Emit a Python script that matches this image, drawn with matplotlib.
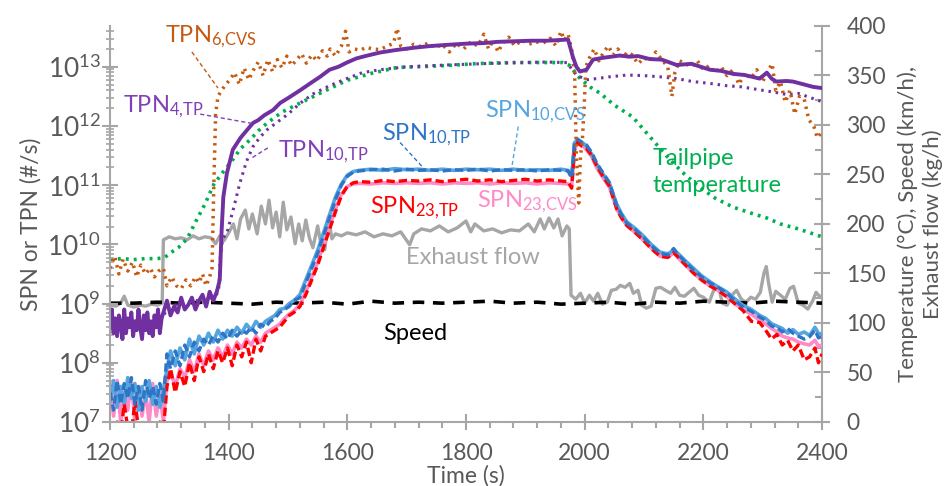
import numpy as np
import matplotlib
matplotlib.use('Agg')
import matplotlib.pyplot as plt
from matplotlib.ticker import MultipleLocator, LogLocator, FixedLocator, NullFormatter

plt.rcParams['font.family'] = 'Lato'
plt.rcParams['mathtext.fontset'] = 'custom'
plt.rcParams['mathtext.rm'] = 'Lato'
plt.rcParams['mathtext.it'] = 'Lato:italic'
plt.rcParams['mathtext.bf'] = 'Lato:bold'

# ---- particle number series (log10 of #/s) ----
t_tpn4 = [1200, 1203, 1206, 1209, 1212, 1215, 1218, 1221, 1224, 1227, 1230, 1233, 1236, 1239, 1242,
          1245, 1248, 1251, 1254, 1257, 1260, 1263, 1266, 1269, 1272, 1275, 1278, 1281, 1284, 1287,
          1290, 1296, 1302, 1308, 1314, 1320, 1326, 1332, 1338, 1344, 1350, 1356, 1362, 1368, 1374,
          1380, 1385, 1388, 1391, 1397, 1407, 1420, 1430, 1441, 1450, 1460, 1475, 1487, 1500, 1520,
          1542, 1554, 1570, 1585, 1599, 1615, 1630, 1655, 1680, 1711, 1740, 1768, 1800, 1830, 1852,
          1880, 1910, 1936, 1955, 1972, 1980, 1986, 1992, 2003, 2014, 2030, 2045, 2059, 2075, 2090,
          2110, 2130, 2155, 2180, 2211, 2230, 2250, 2270, 2295, 2307, 2315, 2323, 2340, 2351, 2370,
          2385, 2400]
tpn4_tp = [8.6, 8.9, 8.5, 8.75, 8.45, 8.8, 8.65, 8.4, 8.9, 8.5, 8.75, 8.6, 8.85, 8.45, 8.7,
           8.55, 8.9, 8.6, 8.4, 8.8, 8.55, 8.85, 8.5, 8.7, 8.45, 8.8, 8.6, 8.9, 8.5, 8.75,
           8.85, 9.05, 8.8, 8.95, 8.85, 9.1, 8.9, 8.98, 9.1, 8.9, 9.05, 9.15, 8.95, 9.2, 9.05,
           9.2, 9.4, 10.2, 10.8, 11.2, 11.6, 11.8, 11.92, 12.05, 12.1, 12.18, 12.27, 12.39, 12.47, 12.6,
           12.75, 12.83, 12.95, 13.0, 13.07, 13.14, 13.18, 13.24, 13.28, 13.32, 13.35, 13.37, 13.39, 13.4, 13.42,
           13.43, 13.44, 13.44, 13.45, 13.46, 13.17, 13.0, 12.92, 12.95, 13.12, 13.15, 13.17, 13.19, 13.17, 13.18,
           13.13, 13.12, 13.03, 13.05, 12.95, 12.93, 12.88, 12.86, 12.8, 12.9, 12.8, 12.75, 12.76, 12.75, 12.7,
           12.66, 12.64]

t_tpn10 = [1200, 1220, 1240, 1260, 1280, 1290, 1300, 1320, 1340, 1360, 1375, 1383, 1386, 1390, 1397,
           1408, 1419, 1430, 1441, 1452, 1464, 1480, 1500, 1520, 1542, 1570, 1599, 1625, 1655, 1700,
           1768, 1850, 1936, 1970, 1986, 2003, 2020, 2042, 2071, 2100, 2127, 2155, 2182, 2210, 2239,
           2265, 2295, 2320, 2341, 2360, 2380, 2400]
tpn10_tp = [8.7, 8.75, 8.7, 8.75, 8.7, 8.8, 8.95, 9.0, 9.05, 9.05, 9.1, 9.2, 9.8, 10.1, 10.19,
            10.6, 11.04, 11.4, 11.65, 11.8, 11.93, 12.05, 12.2, 12.38, 12.54, 12.68, 12.8, 12.9, 12.95, 13.0,
            13.03, 13.06, 13.08, 13.07, 12.86, 12.78, 12.8, 12.83, 12.86, 12.85, 12.83, 12.8, 12.75, 12.72, 12.68,
            12.66, 12.61, 12.57, 12.53, 12.55, 12.48, 12.41]

t_tpn6 = [1200, 1208, 1215, 1222, 1230, 1238, 1245, 1252, 1260, 1268, 1275, 1282, 1290, 1296, 1304,
          1312, 1320, 1328, 1336, 1344, 1350, 1356, 1362, 1368, 1372, 1375, 1378, 1382, 1388, 1395,
          1402, 1410, 1418, 1426, 1434, 1442, 1450, 1458, 1466, 1474, 1482, 1490, 1498, 1506, 1515,
          1523, 1531, 1540, 1549, 1558, 1566, 1571, 1580, 1590, 1597, 1603, 1612, 1622, 1632, 1642,
          1655, 1668, 1678, 1684, 1690, 1700, 1712, 1724, 1736, 1748, 1760, 1772, 1784, 1796, 1808,
          1820, 1830, 1838, 1846, 1854, 1862, 1872, 1882, 1894, 1906, 1918, 1930, 1942, 1952, 1960,
          1966, 1972, 1978, 1983, 1986, 1990, 1993, 1996, 1999, 2002, 2008, 2016, 2024, 2032, 2040,
          2048, 2056, 2064, 2072, 2080, 2090, 2100, 2110, 2120, 2130, 2140, 2147, 2152, 2160, 2170,
          2180, 2190, 2200, 2210, 2220, 2230, 2240, 2250, 2260, 2270, 2280, 2290, 2300, 2310, 2316,
          2322, 2330, 2338, 2346, 2354, 2362, 2370, 2378, 2386, 2392, 2400]
tpn6_cvs = [9.6, 9.8, 9.5, 9.75, 9.55, 9.7, 9.45, 9.65, 9.5, 9.6, 9.45, 9.55, 9.6, 9.3, 9.45,
            9.3, 9.25, 9.4, 9.3, 9.45, 9.35, 9.5, 9.3, 9.45, 9.6, 11.0, 12.2, 12.5, 12.6, 12.7,
            12.78, 12.9, 12.7, 12.98, 12.78, 12.95, 13.08, 12.85, 13.12, 12.92, 13.12, 12.98, 13.18, 13.02, 13.12,
            13.22, 13.06, 13.2, 13.1, 13.27, 13.18, 13.3, 13.18, 13.35, 13.6, 13.25, 13.3, 13.28, 13.33, 13.3,
            13.29, 13.35, 13.4, 13.65, 13.35, 13.3, 13.38, 13.34, 13.4, 13.32, 13.38, 13.25, 13.4, 13.3, 13.42,
            13.35, 13.55, 13.3, 13.45, 13.25, 13.4, 13.5, 13.35, 13.45, 13.38, 13.42, 13.4, 13.48, 13.35, 13.6,
            13.45, 13.55, 13.3, 12.9, 11.5, 10.7, 11.5, 11.75, 12.3, 13.0, 13.15, 13.3, 13.1, 13.25, 13.35,
            13.2, 13.3, 13.15, 13.25, 13.2, 13.05, 13.15, 13.1, 13.25, 13.12, 13.0, 12.5, 12.9, 13.1, 13.05,
            13.0, 13.1, 12.95, 13.02, 12.9, 13.0, 12.85, 12.95, 12.7, 12.9, 12.8, 12.95, 12.75, 12.95, 13.05,
            12.6, 12.75, 12.4, 12.6, 12.2, 12.5, 12.45, 12.1, 12.0, 11.8, 11.9]

t_spn = [1200, 1206, 1212, 1218, 1224, 1230, 1236, 1242, 1248, 1254,
         1260, 1266, 1272, 1278, 1284, 1290, 1296, 1302, 1310, 1318,
         1326, 1334, 1342, 1350, 1358, 1366, 1374, 1382, 1390, 1398,
         1406, 1414, 1422, 1430, 1438, 1446, 1454, 1462, 1470, 1478,
         1486, 1494, 1502, 1510, 1520, 1530, 1540, 1550, 1560, 1570,
         1580, 1590, 1600, 1610, 1620, 1640, 1660, 1680, 1700, 1720,
         1740, 1760, 1780, 1800, 1820, 1840, 1860, 1880, 1900, 1920,
         1940, 1960, 1972, 1978, 1983, 1988, 1995, 2003, 2012, 2020,
         2030, 2042, 2054, 2062, 2071, 2085, 2098, 2112, 2127, 2140,
         2150, 2158, 2170, 2183, 2197, 2211, 2225, 2239, 2253, 2267,
         2281, 2295, 2305, 2315, 2324, 2333, 2342, 2351, 2360, 2370,
         2379, 2388, 2394, 2400]
spn10_tp = [7.5, 7.2, 7.7, 7.3, 7.65, 7.4, 7.75, 7.3, 7.6, 7.2,
            7.7, 7.4, 7.6, 7.3, 7.65, 7.35, 8.15, 7.9, 8.2, 7.95,
            8.3, 8.1, 8.35, 8.2, 8.4, 8.3, 8.45, 8.35, 8.5, 8.4,
            8.55, 8.45, 8.55, 8.5, 8.6, 8.5, 8.65, 8.6, 8.7, 8.75,
            8.85, 8.9, 8.95, 9.05, 9.1, 9.35, 9.6, 9.85, 10.15, 10.45,
            10.75, 11.0, 11.15, 11.22, 11.24, 11.26, 11.27, 11.24, 11.27, 11.25,
            11.26, 11.24, 11.26, 11.25, 11.27, 11.24, 11.26, 11.25, 11.26, 11.24,
            11.26, 11.25, 11.24, 11.12, 11.75, 11.78, 11.72, 11.68, 11.55, 11.38,
            11.22, 11.04, 10.65, 10.5, 10.36, 10.25, 10.13, 9.98, 9.85, 9.82,
            9.93, 9.82, 9.7, 9.57, 9.45, 9.35, 9.27, 9.18, 9.05, 8.94,
            8.87, 8.77, 8.72, 8.62, 8.6, 8.52, 8.58, 8.5, 8.45, 8.4,
            8.44, 8.55, 8.42, 8.45]
spn10_cvs = [7.35, 7.7, 7.25, 7.6, 7.3, 7.75, 7.4, 7.65, 7.2, 7.6,
             7.35, 7.7, 7.3, 7.6, 7.25, 7.55, 7.9, 8.2, 7.95, 8.25,
             8.05, 8.4, 8.15, 8.45, 8.3, 8.5, 8.35, 8.55, 8.4, 8.55,
             8.45, 8.6, 8.5, 8.65, 8.55, 8.7, 8.6, 8.7, 8.75, 8.8,
             8.9, 8.92, 9.0, 9.05, 9.15, 9.4, 9.65, 9.9, 10.2, 10.5,
             10.8, 11.02, 11.17, 11.23, 11.25, 11.27, 11.25, 11.28, 11.26, 11.27,
             11.25, 11.27, 11.25, 11.27, 11.26, 11.27, 11.25, 11.27, 11.25, 11.26,
             11.25, 11.27, 11.25, 11.15, 11.72, 11.76, 11.73, 11.66, 11.52, 11.36,
             11.2, 11.02, 10.68, 10.52, 10.38, 10.27, 10.15, 10.0, 9.87, 9.84,
             9.9, 9.84, 9.72, 9.6, 9.47, 9.37, 9.28, 9.2, 9.08, 8.97,
             8.9, 8.8, 8.75, 8.66, 8.62, 8.58, 8.5, 8.56, 8.48, 8.52,
             8.46, 8.6, 8.5, 8.48]
spn23_tp = [6.9, 6.8, 7.0, 6.8, 7.3, 6.9, 6.8, 7.35, 6.9, 6.8,
            7.0, 6.8, 6.9, 6.8, 7.0, 6.85, 7.6, 7.9, 7.5, 7.85,
            7.6, 8.0, 7.7, 8.1, 7.85, 8.15, 7.9, 8.2, 8.0, 8.25,
            7.95, 8.3, 8.1, 8.35, 8.0, 8.4, 8.2, 8.45, 8.5, 8.55,
            8.6, 8.7, 8.8, 8.85, 8.95, 9.15, 9.4, 9.65, 9.95, 10.25,
            10.55, 10.82, 10.98, 11.04, 11.06, 11.05, 11.08, 11.06, 11.08, 11.07,
            11.09, 11.06, 11.08, 11.1, 11.07, 11.09, 11.06, 11.08, 11.1, 11.07,
            11.09, 11.07, 11.06, 10.95, 11.6, 11.72, 11.66, 11.62, 11.5, 11.33,
            11.16, 10.98, 10.6, 10.45, 10.32, 10.2, 10.08, 9.93, 9.8, 9.78,
            9.86, 9.78, 9.65, 9.52, 9.4, 9.3, 9.22, 9.12, 9.0, 8.88,
            8.7, 8.68, 8.55, 8.4, 8.48, 8.3, 8.38, 8.2, 8.3, 8.05,
            8.1, 8.25, 8.0, 8.15]
spn23_cvs = [7.6, 7.1, 7.7, 7.0, 7.5, 7.2, 7.7, 7.0, 7.6, 7.1,
             7.5, 7.0, 7.65, 7.1, 7.5, 7.0, 7.7, 7.85, 7.6, 7.9,
             7.75, 8.05, 7.85, 8.15, 7.95, 8.2, 8.05, 8.25, 8.1, 8.3,
             8.15, 8.35, 8.25, 8.4, 8.3, 8.45, 8.35, 8.5, 8.55, 8.6,
             8.65, 8.75, 8.82, 8.88, 8.98, 9.2, 9.45, 9.7, 10.0, 10.3,
             10.6, 10.85, 10.98, 11.02, 11.03, 11.02, 11.04, 11.03, 11.04, 11.03,
             11.04, 11.02, 11.04, 11.03, 11.04, 11.02, 11.04, 11.03, 11.04, 11.02,
             11.04, 11.03, 11.02, 10.98, 11.62, 11.7, 11.68, 11.6, 11.48, 11.3,
             11.14, 10.96, 10.6, 10.45, 10.32, 10.2, 10.08, 9.94, 9.8, 9.78,
             9.86, 9.77, 9.65, 9.52, 9.4, 9.3, 9.22, 9.12, 9.0, 8.9,
             8.82, 8.72, 8.66, 8.58, 8.52, 8.45, 8.42, 8.4, 8.35, 8.32,
             8.3, 8.38, 8.28, 8.3]

# ---- right axis series ----
t_temp = [1200, 1220, 1240, 1260, 1280, 1292, 1300, 1315, 1330, 1345, 1360, 1375, 1390, 1407, 1420,
          1436, 1450, 1465, 1490, 1520, 1554, 1599, 1640, 1684, 1730, 1768, 1820, 1880, 1930, 1963,
          1975, 1992, 2010, 2026, 2050, 2081, 2110, 2139, 2165, 2194, 2220, 2250, 2280, 2307, 2330,
          2360, 2380, 2400]
temp = [164, 165, 164, 165, 165, 166, 170, 176, 185, 203, 220, 240, 252, 265, 276,
        285, 294, 302, 313, 322, 332, 345, 352, 358, 359, 360, 362, 363, 363, 363,
        360, 347, 338, 332, 320, 308, 288, 268, 252, 237, 226, 217, 211, 206, 200,
        195, 191, 187]

t_flow = [1200, 1210, 1218, 1224, 1230, 1240, 1250, 1260, 1270, 1280, 1288, 1290, 1300, 1310, 1320,
          1330, 1340, 1350, 1360, 1370, 1378, 1385, 1392, 1400, 1408, 1414, 1420, 1428, 1434, 1440,
          1448, 1455, 1462, 1468, 1474, 1480, 1486, 1492, 1498, 1505, 1512, 1518, 1524, 1530, 1536,
          1542, 1550, 1556, 1562, 1568, 1574, 1580, 1590, 1600, 1615, 1630, 1645, 1660, 1675, 1690,
          1705, 1712, 1725, 1740, 1755, 1770, 1785, 1800, 1808, 1815, 1830, 1845, 1860, 1875, 1890,
          1905, 1915, 1925, 1932, 1940, 1948, 1955, 1962, 1970, 1974, 1977, 1985, 1993, 2000, 2008,
          2015, 2022, 2030, 2038, 2045, 2053, 2060, 2068, 2076, 2082, 2090, 2096, 2104, 2112, 2120,
          2128, 2136, 2145, 2152, 2160, 2168, 2176, 2184, 2192, 2200, 2210, 2218, 2226, 2232, 2240,
          2248, 2256, 2264, 2272, 2280, 2288, 2296, 2302, 2306, 2310, 2316, 2322, 2330, 2338, 2346,
          2352, 2360, 2368, 2376, 2384, 2390, 2394, 2400]
flow = [118, 117, 120, 127, 118, 116, 118, 117, 119, 118, 120, 184, 187, 185, 186,
        184, 188, 185, 187, 186, 180, 188, 183, 191, 200, 185, 205, 214, 195, 210,
        190, 218, 200, 224, 196, 212, 187, 222, 194, 207, 180, 200, 183, 204, 186,
        176, 198, 178, 174, 207, 185, 190, 188, 191, 189, 192, 187, 190, 188, 192,
        179, 190, 195, 193, 198, 192, 196, 203, 192, 200, 193, 195, 191, 194, 193,
        200, 192, 205, 195, 206, 196, 205, 188, 198, 195, 128, 124, 130, 120, 128,
        122, 130, 119, 121, 133, 134, 138, 136, 140, 130, 133, 118, 115, 117, 135,
        136, 133, 130, 136, 128, 127, 131, 135, 128, 126, 121, 134, 136, 120, 118,
        128, 133, 124, 121, 126, 124, 131, 150, 157, 140, 121, 132, 128, 124, 135,
        137, 120, 118, 114, 122, 131, 128, 126]

t_speed = [1200, 1240, 1280, 1320, 1360, 1400, 1440, 1480, 1520, 1560, 1600, 1640, 1680, 1720, 1760,
           1800, 1840, 1880, 1920, 1960, 2000, 2040, 2080, 2120, 2160, 2200, 2240, 2280, 2320, 2360,
           2400]
speed = [120, 120, 121, 120, 121, 120, 119, 121, 120, 121, 119, 122, 120, 121, 120,
         121, 122, 120, 121, 119, 120, 121, 119, 121, 120, 122, 121, 120, 122, 121,
         120]

def pn(v):
    return 10 ** np.array(v)

c_brown = '#C55A11'
c_purple = '#7030A0'
c_purple_txt = '#8040B8'
c_green = '#00B050'
c_gray = '#A6A6A6'
c_blue = '#2E75C6'
c_lblue = '#55A5E0'
c_red = '#FF0000'
c_pink = '#FF8AC8'
c_axis = '#A6A6A6'
c_txt = '#595959'

fig = plt.figure(figsize=(9.49, 4.86), dpi=100)
ax = fig.add_axes([0.1159, 0.1317, 0.7503, 0.815])
ax2 = ax.twinx()
ax.set_zorder(ax2.get_zorder() + 1)
ax.patch.set_visible(False)

# right axis: exhaust flow, speed, tailpipe temperature
ax2.plot(t_flow, flow, color=c_gray, lw=2.4, zorder=2)
ax2.plot(t_speed, speed, color='black', lw=2.6, dashes=(3.2, 2.4), zorder=3)
ax2.plot(t_temp, temp, color=c_green, lw=2.6, linestyle=(0, (0.8, 1.4)), zorder=4)

# left axis: particle numbers
ax.plot(t_spn, pn(spn23_cvs), color=c_pink, lw=2.6)
ax.plot(t_spn, pn(spn10_cvs), color=c_lblue, lw=2.6)
ax.plot(t_spn, pn(spn23_tp), color=c_red, lw=2.4, dashes=(2.5, 1.2))
ax.plot(t_spn, pn(spn10_tp), color=c_blue, lw=2.4, dashes=(2.5, 1.2))
ax.plot(t_tpn10, pn(tpn10_tp), color=c_purple, lw=2.2, linestyle=(0, (0.8, 1.6)))
ax.plot(t_tpn6, pn(tpn6_cvs), color=c_brown, lw=2.5, linestyle=(0, (0.7, 1.4)))
ax.plot(t_tpn4, pn(tpn4_tp), color=c_purple, lw=2.8)

ax.set_xlim(1200, 2400)
ax.set_yscale('log')
ax.set_ylim(1e7, 10 ** 13.69)
ax2.set_ylim(0, 400)

ax.xaxis.set_major_locator(MultipleLocator(200))
ax.xaxis.set_minor_locator(MultipleLocator(40))
ax.yaxis.set_major_locator(FixedLocator(10.0 ** np.arange(7, 14)))
ax.yaxis.set_minor_locator(LogLocator(base=10, subs=np.arange(2, 10), numticks=20))
ax.yaxis.set_minor_formatter(NullFormatter())
ax2.yaxis.set_major_locator(MultipleLocator(50))
ax2.yaxis.set_minor_locator(MultipleLocator(25))

for a in (ax, ax2):
    a.spines['top'].set_visible(False)
    for s in a.spines.values():
        s.set_color(c_axis)
        s.set_linewidth(1.5)
ax.spines['right'].set_visible(False)
ax2.spines['left'].set_visible(False)
ax2.spines['bottom'].set_visible(False)

ax.tick_params(axis='x', which='major', direction='inout', length=12, width=1.5, color=c_axis,
               labelsize=16.5, labelcolor=c_txt, pad=9)
ax.tick_params(axis='x', which='minor', direction='out', length=4, width=1.5, color=c_axis)
ax.tick_params(axis='y', which='major', direction='inout', length=11, width=1.5, color=c_axis,
               labelsize=19, labelcolor=c_txt, pad=1)
ax.tick_params(axis='y', which='minor', direction='inout', length=6, width=1.2, color=c_axis)
ax2.tick_params(axis='y', which='major', direction='inout', length=11, width=1.5, color=c_axis,
                labelsize=16.5, labelcolor=c_txt, pad=12)
ax2.tick_params(axis='y', which='minor', direction='in', length=5, width=1.5, color=c_axis)

ax.set_xlabel('Time (s)', fontsize=16.5, color=c_txt)
ax.xaxis.set_label_coords(0.5, -0.109)
ax.set_ylabel('SPN or TPN (#/s)', fontsize=16.5, color=c_txt, labelpad=4)
ax2.set_ylabel('Temperature (°C), Speed (km/h),\nExhaust flow (kg/h)', fontsize=16, color=c_txt,
               labelpad=8, linespacing=1.3)

# labels with leader lines
lab = dict(fontsize=17, va='baseline', ha='left')
ax.text(1293, 10 ** 13.42, r'$\mathregular{TPN_{6{,}CVS}}$', color=c_brown, **lab)
ax.plot([1338, 1382], [10 ** 13.25, 10 ** 12.64], color=c_brown, lw=1, ls=(0, (3, 2)))
ax.text(1222, 10 ** 12.24, r'$\mathregular{TPN_{4{,}TP}}$', color=c_purple_txt, **lab)
ax.plot([1352, 1441], [10 ** 12.2, 10 ** 12.04], color=c_purple_txt, lw=1, ls=(0, (3, 2)))
ax.text(1483, 10 ** 11.48, r'$\mathregular{TPN_{10{,}TP}}$', color=c_purple_txt, **lab)
ax.plot([1466, 1439], [10 ** 11.63, 10 ** 11.46], color=c_purple_txt, lw=1, ls=(0, (3, 2)))
ax.text(1658, 10 ** 11.77, r'$\mathregular{SPN_{10{,}TP}}$', color=c_blue, **lab)
ax.plot([1689, 1731], [10 ** 11.72, 10 ** 11.26], color=c_blue, lw=1, ls=(0, (3, 2)))
ax.text(1832, 10 ** 12.15, r'$\mathregular{SPN_{10{,}CVS}}$', color=c_lblue, **lab)
ax.plot([1888, 1877], [10 ** 11.99, 10 ** 11.29], color=c_lblue, lw=1, ls=(0, (3, 2)))
ax.text(1638, 10 ** 10.53, r'$\mathregular{SPN_{23{,}TP}}$', color=c_red, **lab)
ax.text(1819, 10 ** 10.63, r'$\mathregular{SPN_{23{,}CVS}}$', color=c_pink, **lab)
ax.text(1699, 10 ** 9.67, 'Exhaust flow', color=c_gray, fontsize=17, va='baseline', ha='left')
ax.text(1660, 10 ** 8.39, 'Speed', color='black', fontsize=17, va='baseline', ha='left')
ax.text(2115, 10 ** 11.34, 'Tailpipe', color=c_green, fontsize=17, va='baseline', ha='left')
ax.text(2115, 10 ** 10.89, 'temperature', color=c_green, fontsize=17, va='baseline', ha='left')

fig.savefig('out.png', dpi=100)
